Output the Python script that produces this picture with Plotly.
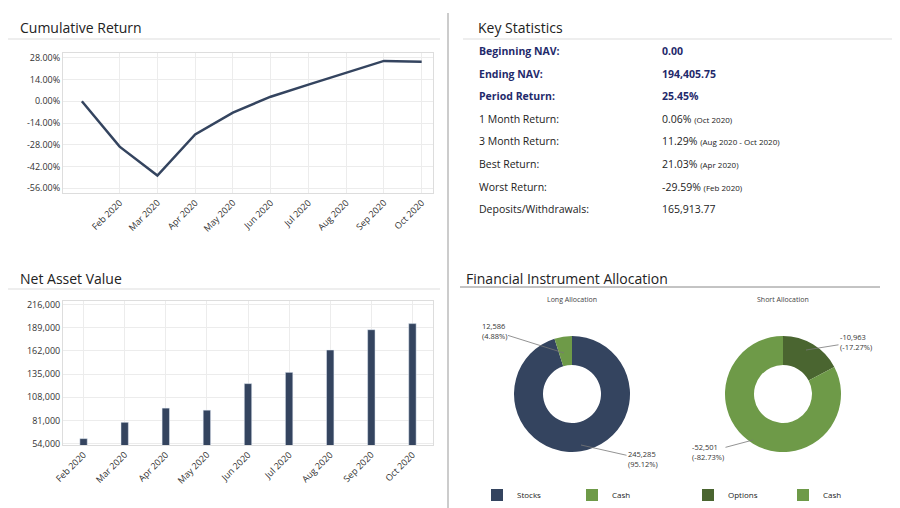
import plotly.graph_objects as go

months = ["Jan 2020", "Feb 2020", "Mar 2020", "Apr 2020", "May 2020", "Jun 2020",
          "Jul 2020", "Aug 2020", "Sep 2020", "Oct 2020"]
cum_return = [0.0, -29.2, -47.8, -21.4, -7.3, 2.9, 10.7, 18.4, 25.9, 25.45]
ret_ticks = [-56, -42, -28, -14, 0, 14, 28]
ret_tick_text = ["-56.00%", "-42.00%", "-28.00%", "-14.00%", "0.00%", "14.00%", "28.00%"]

nav_months = months[1:]
nav_values = [59900, 78900, 95400, 93000, 123900, 137000, 163000, 186600, 193700]
nav_ticks = [54000, 81000, 108000, 135000, 162000, 189000, 216000]

stat_labels = ["Beginning NAV:", "Ending NAV:", "Period Return:", "1 Month Return:",
               "3 Month Return:", "Best Return:", "Worst Return:", "Deposits/Withdrawals:"]
stat_values = ["0.00", "194,405.75", "25.45%", "0.06%", "11.29%", "21.03%", "-29.59%", "165,913.77"]
stat_notes = ["", "", "", "(Oct 2020)", "(Aug 2020 - Oct 2020)", "(Apr 2020)", "(Feb 2020)", ""]

long_labels = ["Stocks", "Cash"]
long_values = [245285, 12586]
short_labels = ["Options", "Cash "]  # trailing space keeps a separate legend entry
short_values = [-10963, -52501]

NAVY = "#34445f"
GREEN = "#6e9a48"
DKGREEN = "#4a6530"
W, H = 900, 508


def px(x):
    return x / W


def py(y):
    return 1 - y / H


fig = go.Figure()

# Cumulative return line
fig.add_trace(go.Scatter(
    x=months, y=cum_return, mode="lines",
    line=dict(color=NAVY, width=2.5), showlegend=False, xaxis="x", yaxis="y"))

# NAV bars
fig.add_trace(go.Bar(
    x=nav_months, y=nav_values, marker_color=NAVY, width=0.18,
    showlegend=False, xaxis="x2", yaxis="y2"))

# Allocation donuts
fig.add_trace(go.Pie(
    labels=long_labels, values=long_values, hole=0.5, sort=False,
    direction="clockwise", rotation=0, textinfo="none",
    marker=dict(colors=[NAVY, GREEN]), legend="legend",
    domain=dict(x=[px(506), px(622)], y=[py(444), py(328)])))
fig.add_trace(go.Pie(
    labels=short_labels, values=[abs(v) for v in short_values], hole=0.5, sort=False,
    direction="clockwise", rotation=0, textinfo="none",
    marker=dict(colors=[DKGREEN, GREEN]), legend="legend2",
    domain=dict(x=[px(717), px(833)], y=[py(444), py(328)])))

axis_common = dict(showgrid=True, gridcolor="#ececec", linecolor="#dddddd", showline=True,
                   mirror=True, tickfont=dict(size=9, color="#333"), zeroline=False,
                   automargin=False)

fig.update_layout(
    width=W, height=H, margin=dict(l=0, r=0, t=0, b=0),
    paper_bgcolor="white", plot_bgcolor="white",
    font=dict(family="Open Sans, DejaVu Sans", color="#222"),
    xaxis=dict(axis_common, domain=[px(55), px(425)], anchor="y", tickangle=-45,
               tickvals=months[1:], range=[-0.5, 9.3]),
    yaxis=dict(axis_common, domain=[py(185), py(45)], anchor="x", range=[-59, 31],
               tickvals=ret_ticks, ticktext=ret_tick_text),
    xaxis2=dict(axis_common, domain=[px(55), px(425)], anchor="y2", tickangle=-45,
                range=[-0.5, 8.5]),
    yaxis2=dict(axis_common, domain=[py(437), py(293)], anchor="x2", range=[52500, 220000],
                tickvals=nav_ticks, tickformat=",d"),
    legend=dict(orientation="h", x=px(564), xanchor="center", y=py(487), yanchor="middle",
                font=dict(size=8), entrywidth=50, itemwidth=30),
    legend2=dict(orientation="h", x=px(775), xanchor="center", y=py(487), yanchor="middle",
                 font=dict(size=8), entrywidth=50, itemwidth=30),
)

line = lambda x0, x1, y0, y1, c: dict(type="line", xref="paper", yref="paper",
                                      x0=px(x0), x1=px(x1), y0=py(y0), y1=py(y1),
                                      line=dict(color=c, width=1))
fig.update_layout(shapes=[
    line(440, 440, 508, 5, "#999"),
    line(0, 432, 31, 31, "#ddd"),
    line(455, 885, 31, 31, "#ddd"),
    line(0, 432, 281, 281, "#ddd"),
    line(452, 872, 279, 279, "#888"),
])

ann = []


def text(x, y, s, size=12, color="#222", anchor="left", bold=False):
    ann.append(dict(xref="paper", yref="paper", x=px(x), y=py(y), text=f"<b>{s}</b>" if bold else s,
                    showarrow=False, xanchor=anchor, yanchor="middle",
                    font=dict(size=size, color=color)))


text(10, 19, "Cumulative Return", 14)
text(468, 19, "Key Statistics", 14)
text(10, 270, "Net Asset Value", 14)
text(456, 270, "Financial Instrument Allocation", 14)
text(564, 291, "Long Allocation", 7, "#444", "center")
text(775, 291, "Short Allocation", 7, "#444", "center")

for i, (lab, val, note) in enumerate(zip(stat_labels, stat_values, stat_notes)):
    y = 43 + i * 22.6
    bold = i < 3
    col = "#1f2a6b" if bold else "#222"
    text(469, y, lab, 10.5, col, bold=bold)
    s = f"{val} <span style='font-size:8px'>{note}</span>" if note else val
    text(652, y, s, 10.5, col, bold=bold)

# Donut value labels with leader lines
lab_font = dict(size=7.5, color="#333")
ann += [
    dict(xref="paper", yref="paper", x=px(556), y=py(345), ax=-70, ay=-22, showarrow=True,
         arrowhead=0, arrowwidth=0.8, arrowcolor="#777", text="12,586<br>(4.88%)",
         font=lab_font, align="left"),
    dict(xref="paper", yref="paper", x=px(573), y=py(437), ax=62, ay=14, showarrow=True,
         arrowhead=0, arrowwidth=0.8, arrowcolor="#777", text="245,285<br>(95.12%)",
         font=lab_font, align="left"),
    dict(xref="paper", yref="paper", x=px(798), y=py(342), ax=50, ay=-8, showarrow=True,
         arrowhead=0, arrowwidth=0.8, arrowcolor="#777", text="-10,963<br>(-17.27%)",
         font=lab_font, align="left"),
    dict(xref="paper", yref="paper", x=px(745), y=py(432), ax=-45, ay=12, showarrow=True,
         arrowhead=0, arrowwidth=0.8, arrowcolor="#777", text="-52,501<br>(-82.73%)",
         font=lab_font, align="left"),
]
fig.update_layout(annotations=ann)

fig.write_html("out.html")
